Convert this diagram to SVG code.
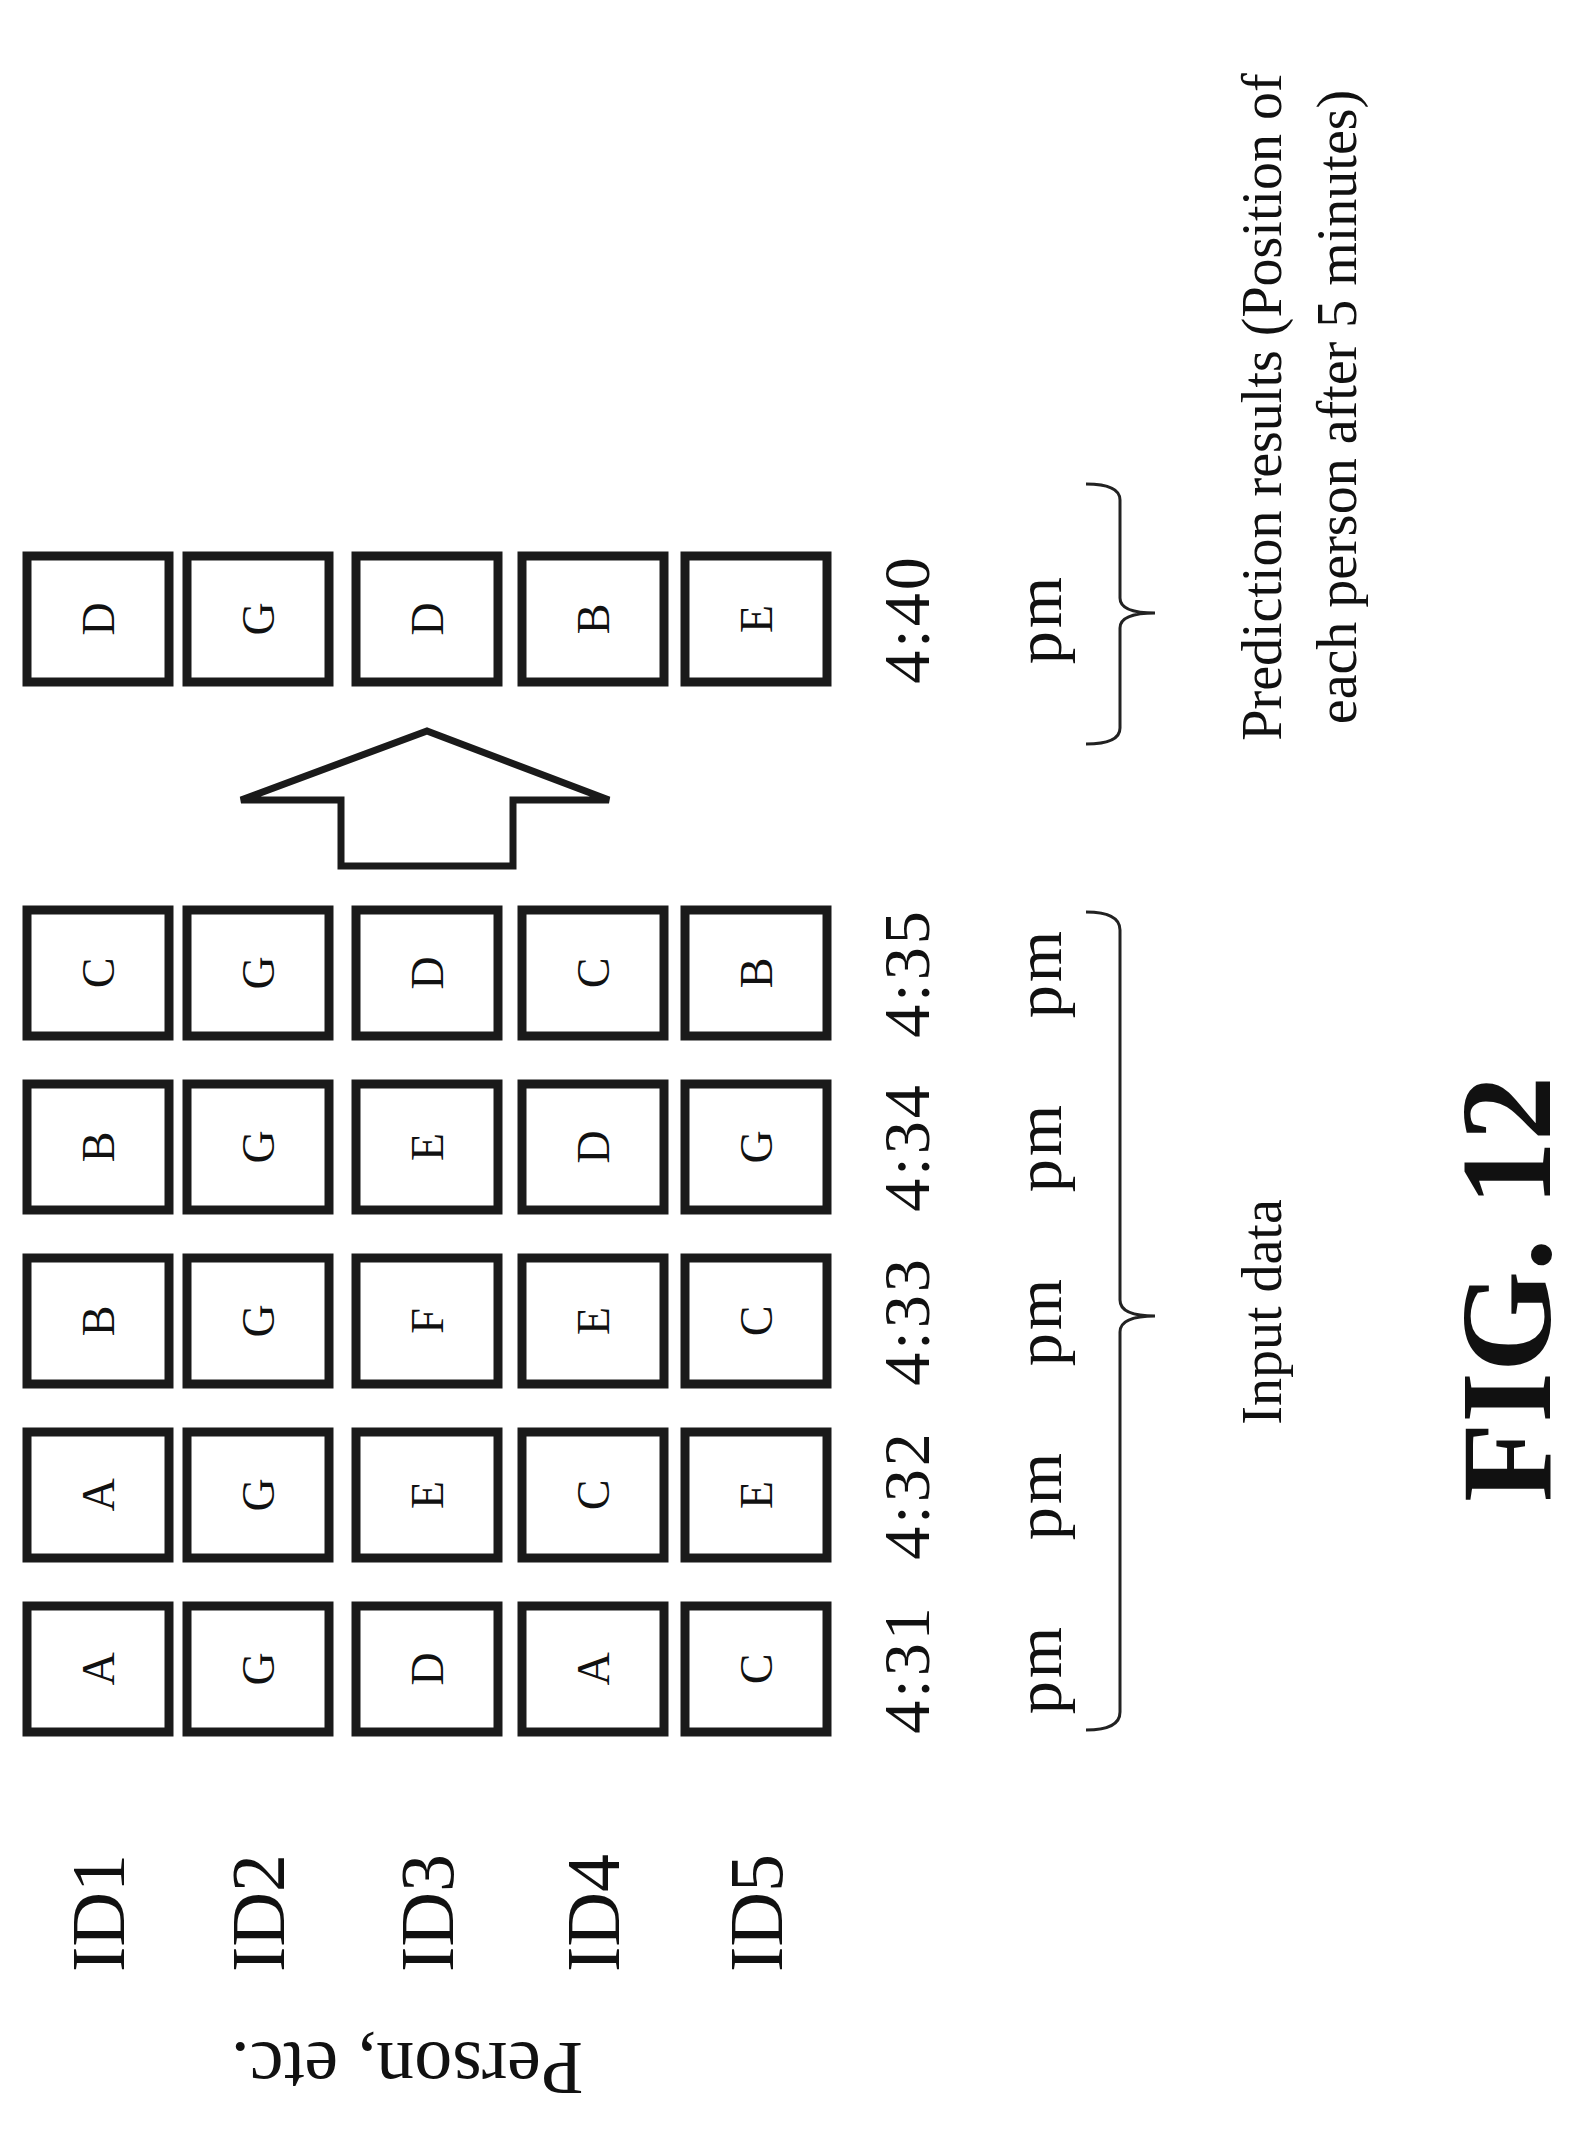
<svg xmlns="http://www.w3.org/2000/svg" width="1574" height="2146" viewBox="0 0 1574 2146">
<style>
.b{fill:#fff;stroke:#1a1a1a;stroke-width:9}
.l{font-family:"Liberation Serif",serif;font-size:46px;fill:#111;text-anchor:middle;dominant-baseline:central}
.t{font-family:"Liberation Serif",serif;font-size:66px;letter-spacing:3px;fill:#111;text-anchor:middle;dominant-baseline:central}
.id{font-family:"Liberation Serif",serif;font-size:76px;fill:#111;text-anchor:middle;dominant-baseline:central}
.s{font-family:"Liberation Serif",serif;font-size:56px;fill:#111;text-anchor:middle;dominant-baseline:central}
.br{fill:none;stroke:#222;stroke-width:3}
</style>
<defs>
<g id="bx"><rect class="b" x="-71" y="-63" width="142" height="126"/></g>
</defs>
<g id="labels">
<text class="id" transform="translate(98,1913) rotate(-90)">ID1</text>
<text class="id" transform="translate(258,1913) rotate(-90)">ID2</text>
<text class="id" transform="translate(427,1913) rotate(-90)">ID3</text>
<text class="id" transform="translate(593,1913) rotate(-90)">ID4</text>
<text class="id" transform="translate(756,1913) rotate(-90)">ID5</text>
<text class="id" transform="translate(407,2069) rotate(180)">Person, etc.</text>
</g>
<g id="col431">
<use href="#bx" x="98" y="1669"/><use href="#bx" x="258" y="1669"/><use href="#bx" x="427" y="1669"/><use href="#bx" x="593" y="1669"/><use href="#bx" x="756" y="1669"/>
<text class="l" transform="translate(98,1669) rotate(-90)">A</text><text class="l" transform="translate(258,1669) rotate(-90)">G</text><text class="l" transform="translate(427,1669) rotate(-90)">D</text><text class="l" transform="translate(593,1669) rotate(-90)">A</text><text class="l" transform="translate(756,1669) rotate(-90)">C</text>
<text class="t" transform="translate(906,1669) rotate(-90)">4:31</text><text class="t" transform="translate(1038,1669) rotate(-90)">pm</text>
</g>
<g id="col432">
<use href="#bx" x="98" y="1495"/><use href="#bx" x="258" y="1495"/><use href="#bx" x="427" y="1495"/><use href="#bx" x="593" y="1495"/><use href="#bx" x="756" y="1495"/>
<text class="l" transform="translate(98,1495) rotate(-90)">A</text><text class="l" transform="translate(258,1495) rotate(-90)">G</text><text class="l" transform="translate(427,1495) rotate(-90)">E</text><text class="l" transform="translate(593,1495) rotate(-90)">C</text><text class="l" transform="translate(756,1495) rotate(-90)">E</text>
<text class="t" transform="translate(906,1495) rotate(-90)">4:32</text><text class="t" transform="translate(1038,1495) rotate(-90)">pm</text>
</g>
<g id="col433">
<use href="#bx" x="98" y="1321"/><use href="#bx" x="258" y="1321"/><use href="#bx" x="427" y="1321"/><use href="#bx" x="593" y="1321"/><use href="#bx" x="756" y="1321"/>
<text class="l" transform="translate(98,1321) rotate(-90)">B</text><text class="l" transform="translate(258,1321) rotate(-90)">G</text><text class="l" transform="translate(427,1321) rotate(-90)">F</text><text class="l" transform="translate(593,1321) rotate(-90)">E</text><text class="l" transform="translate(756,1321) rotate(-90)">C</text>
<text class="t" transform="translate(906,1321) rotate(-90)">4:33</text><text class="t" transform="translate(1038,1321) rotate(-90)">pm</text>
</g>
<g id="col434">
<use href="#bx" x="98" y="1147"/><use href="#bx" x="258" y="1147"/><use href="#bx" x="427" y="1147"/><use href="#bx" x="593" y="1147"/><use href="#bx" x="756" y="1147"/>
<text class="l" transform="translate(98,1147) rotate(-90)">B</text><text class="l" transform="translate(258,1147) rotate(-90)">G</text><text class="l" transform="translate(427,1147) rotate(-90)">E</text><text class="l" transform="translate(593,1147) rotate(-90)">D</text><text class="l" transform="translate(756,1147) rotate(-90)">G</text>
<text class="t" transform="translate(906,1147) rotate(-90)">4:34</text><text class="t" transform="translate(1038,1147) rotate(-90)">pm</text>
</g>
<g id="col435">
<use href="#bx" x="98" y="973"/><use href="#bx" x="258" y="973"/><use href="#bx" x="427" y="973"/><use href="#bx" x="593" y="973"/><use href="#bx" x="756" y="973"/>
<text class="l" transform="translate(98,973) rotate(-90)">C</text><text class="l" transform="translate(258,973) rotate(-90)">G</text><text class="l" transform="translate(427,973) rotate(-90)">D</text><text class="l" transform="translate(593,973) rotate(-90)">C</text><text class="l" transform="translate(756,973) rotate(-90)">B</text>
<text class="t" transform="translate(906,973) rotate(-90)">4:35</text><text class="t" transform="translate(1038,973) rotate(-90)">pm</text>
</g>
<g id="col440">
<use href="#bx" x="98" y="619"/><use href="#bx" x="258" y="619"/><use href="#bx" x="427" y="619"/><use href="#bx" x="593" y="619"/><use href="#bx" x="756" y="619"/>
<text class="l" transform="translate(98,619) rotate(-90)">D</text><text class="l" transform="translate(258,619) rotate(-90)">G</text><text class="l" transform="translate(427,619) rotate(-90)">D</text><text class="l" transform="translate(593,619) rotate(-90)">B</text><text class="l" transform="translate(756,619) rotate(-90)">E</text>
<text class="t" transform="translate(906,619) rotate(-90)">4:40</text><text class="t" transform="translate(1038,619) rotate(-90)">pm</text>
</g>
<g id="connectors">
<polygon points="427,731 609,800 513,800 513,866 341,866 341,800 241,800" fill="#fff" stroke="#1a1a1a" stroke-width="7" stroke-linejoin="miter"/>
<path class="br" d="M1086,912 Q1120,912 1120,930 L1120,1300 Q1120,1316 1155,1316 Q1120,1316 1120,1332 L1120,1712 Q1120,1730 1086,1730"/>
<path class="br" d="M1086,484 Q1120,484 1120,500 L1120,598 Q1120,613 1155,613 Q1120,613 1120,628 L1120,728 Q1120,744 1086,744"/>
</g>
<g id="notes">
<text class="s" transform="translate(1262,1312) rotate(-90)">Input data</text>
<text class="s" transform="translate(1262,407) rotate(-90)">Prediction results (Position of</text>
<text class="s" transform="translate(1337,407) rotate(-90)">each person after 5 minutes)</text>
<text class="id" style="font-weight:bold;font-size:130px" transform="translate(1506,1289) rotate(-90)">FIG. 12</text>
</g>
</svg>
